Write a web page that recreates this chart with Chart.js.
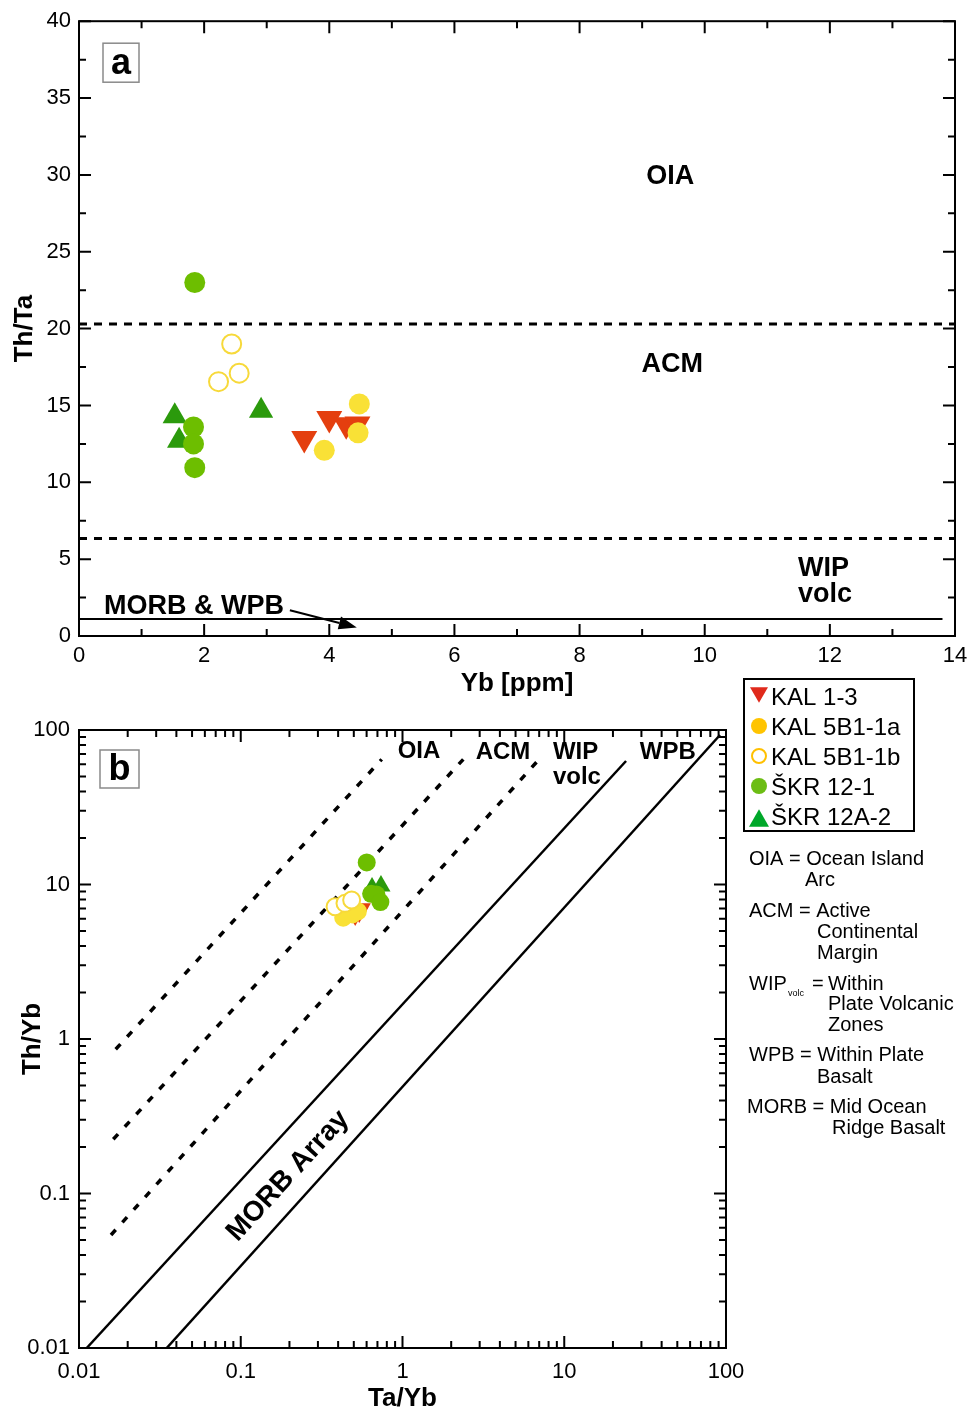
<!DOCTYPE html>
<html><head><meta charset="utf-8">
<script src="https://cdn.jsdelivr.net/npm/chart.js@4.4.1/dist/chart.umd.min.js"></script>
<style>
html,body{margin:0;padding:0;background:#fff;}
#wrap{position:relative;width:979px;height:1414px;overflow:hidden;}
canvas{position:absolute;left:0;}
#ca{top:0;width:979px;height:700px;}
#cb{top:670px;width:979px;height:744px;}
</style></head><body>
<div id="wrap"><canvas id="ca" width="979" height="700"></canvas><canvas id="cb" width="979" height="744"></canvas></div>
<script>
// ---------------- DATA ----------------
const seriesNames = ['KAL 1-3', 'KAL 5B1-1a', 'KAL 5B1-1b', 'ŠKR 12-1', 'ŠKR 12A-2'];

// Panel a: Yb [ppm] vs Th/Ta
const kal13_Yb   = [3.60, 4.00, 4.27, 4.45];
const kal13_ThTa = [12.85, 14.15, 13.75, 13.8];
const kal5a_Yb   = [4.48, 4.46, 3.92];
const kal5a_ThTa = [15.1, 13.22, 12.08];
const kal5b_Yb   = [2.44, 2.23, 2.56];
const kal5b_ThTa = [19.0, 16.55, 17.1];
const skr121_Yb   = [1.85, 1.83, 1.83, 1.85];
const skr121_ThTa = [23.0, 13.6, 12.5, 10.95];
const skr12a_Yb   = [1.53, 1.60, 2.91];
const skr12a_ThTa = [14.3, 12.7, 14.65];

// Panel a field boundaries
const aDashX   = [0, 14];
const aOiaAcmY = [20.3, 20.3];
const aAcmWipY = [6.35, 6.35];
const aMorbX   = [0, 13.8];
const aMorbY   = [1.1, 1.1];

// Panel b: Ta/Yb vs Th/Yb
const kal13_TaYb = [0.51, 0.52, 0.54, 0.56];
const kal13_ThYb = [6.3, 6.7, 6.6, 7.0];
const kal5a_TaYb = [0.43, 0.49, 0.53];
const kal5a_ThYb = [6.1, 6.4, 6.7];
const kal5b_TaYb = [0.383, 0.441, 0.485];
const kal5b_ThYb = [7.18, 7.55, 7.94];
const skr121_TaYb = [0.601, 0.64, 0.69, 0.73];
const skr121_ThYb = [13.9, 8.7, 8.6, 7.7];
const skr12a_TaYb = [0.648, 0.736, 0.66];
const skr12a_ThYb = [9.48, 9.77, 9.0];

// Panel b field boundaries
const bOiaAcmX = [0.01686, 0.744];  const bOiaAcmY = [0.858, 64.6];
const bAcmWipX = [0.01629, 2.376];  const bAcmWipY = [0.2243, 64.6];
const bWipWpbX = [0.01577, 7.08];   const bWipWpbY = [0.0539, 65.6];
const bMorbUpX = [0.01116, 24.1];   const bMorbUpY = [0.01, 63.0];
const bMorbLoX = [0.03485, 91.8];   const bMorbLoY = [0.01, 92.8];

// Ticks
const aXTicks = [0, 2, 4, 6, 8, 10, 12, 14];
const aXMinor = [1, 3, 5, 7, 9, 11, 13];
const aYTicks = [0, 5, 10, 15, 20, 25, 30, 35, 40];
const aYMinor = [2.5, 7.5, 12.5, 17.5, 22.5, 27.5, 32.5, 37.5];
const bTicks = [0.01, 0.1, 1, 10, 100];
const bTickLabels = ['0.01', '0.1', '1', '10', '100'];
const bMinorMult = [2, 3, 4, 5, 6, 7, 8, 9];

// ---------------- STYLE ----------------
const FONT = '"Liberation Sans", Arial, Helvetica, sans-serif';
const STY = [
  {shape: 'triangle', rot: 180, fill: '#E43F0F', stroke: '#E43F0F', bw: 0},
  {shape: 'circle',   rot: 0,   fill: '#F9E136', stroke: '#F9E136', bw: 0},
  {shape: 'circle',   rot: 0,   fill: '#FFFFFF', stroke: '#F7D93A', bw: 2},
  {shape: 'circle',   rot: 0,   fill: '#6DBE00', stroke: '#6DBE00', bw: 0},
  {shape: 'triangle', rot: 0,   fill: '#2B9A0C', stroke: '#2B9A0C', bw: 0}
];
const LEG = [
  {shape: 'down',   fill: '#E02A1C', stroke: null},
  {shape: 'circle', fill: '#FFC400', stroke: null},
  {shape: 'circle', fill: '#FFFFFF', stroke: '#FFC000'},
  {shape: 'circle', fill: '#6CBD14', stroke: null},
  {shape: 'up',     fill: '#00A82A', stroke: null}
];
const drawOrder = [3, 2, 1, 4, 5];

const zip = (xs, ys) => xs.map((x, i) => ({x: x, y: ys[i]}));

function ptsDS(i, xs, ys, r) {
  const s = STY[i];
  const rr = s.shape === 'triangle' ? r.tri : r.circ;
  return {
    label: seriesNames[i], data: zip(xs, ys), showLine: false,
    pointStyle: s.shape, pointRotation: s.rot, pointRadius: rr, pointHoverRadius: rr,
    pointBackgroundColor: s.fill, pointBorderColor: s.stroke, pointBorderWidth: s.bw,
    backgroundColor: s.fill, borderColor: s.stroke, borderWidth: s.bw,
    order: drawOrder[i]
  };
}
function lineDS(xs, ys, w, dash) {
  return {data: zip(xs, ys), showLine: true, borderColor: '#000', borderWidth: w,
    borderDash: dash, borderCapStyle: 'butt', pointRadius: 0, pointHoverRadius: 0,
    fill: false, tension: 0, order: 20};
}

function frameAndTicks(chart, xMaj, xMin, yMaj, yMin) {
  const {ctx, chartArea: a, scales: {x, y}} = chart;
  ctx.save();
  ctx.strokeStyle = '#000'; ctx.lineWidth = 2; ctx.lineCap = 'butt';
  ctx.beginPath();
  const seg = (x1, y1, x2, y2) => { ctx.moveTo(x1, y1); ctx.lineTo(x2, y2); };
  const xt = (v, L) => { const p = x.getPixelForValue(v); seg(p, a.bottom, p, a.bottom - L); seg(p, a.top, p, a.top + L); };
  const yt = (v, L) => { const p = y.getPixelForValue(v); seg(a.left, p, a.left + L, p); seg(a.right, p, a.right - L, p); };
  xMaj.forEach(v => xt(v, 12)); xMin.forEach(v => xt(v, 7));
  yMaj.forEach(v => yt(v, 12)); yMin.forEach(v => yt(v, 7));
  ctx.stroke();
  ctx.strokeRect(a.left, a.top, a.right - a.left, a.bottom - a.top);
  ctx.restore();
}
function txt(ctx, s, x, y, font, align, base) {
  ctx.save(); ctx.fillStyle = '#000'; ctx.font = font;
  ctx.textAlign = align || 'center'; ctx.textBaseline = base || 'middle';
  ctx.fillText(s, x, y); ctx.restore();
}
function letterBox(ctx, s, x, y, w, h) {
  ctx.save(); ctx.fillStyle = '#fff'; ctx.fillRect(x, y, w, h);
  ctx.strokeStyle = '#8a8a8a'; ctx.lineWidth = 1.5; ctx.strokeRect(x, y, w, h);
  ctx.restore();
  txt(ctx, s, x + w / 2, y + h / 2 + 1, 'bold 36px ' + FONT);
}
function arrow(ctx, x1, y1, x2, y2, hl, hw) {
  const ang = Math.atan2(y2 - y1, x2 - x1);
  const bx = x2 - hl * Math.cos(ang), by = y2 - hl * Math.sin(ang);
  ctx.save(); ctx.strokeStyle = '#000'; ctx.fillStyle = '#000'; ctx.lineWidth = 2;
  ctx.beginPath(); ctx.moveTo(x1, y1); ctx.lineTo(bx, by); ctx.stroke();
  ctx.beginPath(); ctx.moveTo(x2, y2);
  ctx.lineTo(bx + hw / 2 * Math.sin(ang), by - hw / 2 * Math.cos(ang));
  ctx.lineTo(bx - hw / 2 * Math.sin(ang), by + hw / 2 * Math.cos(ang));
  ctx.closePath(); ctx.fill(); ctx.restore();
}
function tri(ctx, cx, cy, side, down, fill) {
  const h = side * Math.sqrt(3) / 2;
  ctx.beginPath();
  if (down) { ctx.moveTo(cx - side / 2, cy - h / 2); ctx.lineTo(cx + side / 2, cy - h / 2); ctx.lineTo(cx, cy + h / 2); }
  else { ctx.moveTo(cx - side / 2, cy + h / 2); ctx.lineTo(cx + side / 2, cy + h / 2); ctx.lineTo(cx, cy - h / 2); }
  ctx.closePath(); ctx.fillStyle = fill; ctx.fill();
}

const tickFont = {family: FONT, size: 22};
const titleFont = {family: FONT, size: 26, weight: 'bold'};

// ---------------- PANEL A ----------------
const plugA = {
  id: 'plugA',
  afterDraw(chart) {
    const {ctx, chartArea: a, scales: {x, y}} = chart;
    frameAndTicks(chart, aXTicks, aXMinor, aYTicks, aYMinor);
    const F = 'bold 27px ' + FONT;
    txt(ctx, 'OIA', x.getPixelForValue(9.45), y.getPixelForValue(29.9), F);
    txt(ctx, 'ACM', x.getPixelForValue(9.48), y.getPixelForValue(17.67), F);
    txt(ctx, 'WIP', x.getPixelForValue(11.49), y.getPixelForValue(4.40), F, 'left');
    txt(ctx, 'volc', x.getPixelForValue(11.49), y.getPixelForValue(2.72), F, 'left');
    txt(ctx, 'MORB & WPB', x.getPixelForValue(0.40), y.getPixelForValue(1.94), F, 'left');
    arrow(ctx, x.getPixelForValue(3.37), y.getPixelForValue(1.68), x.getPixelForValue(4.44), y.getPixelForValue(0.56), 18, 13);
    letterBox(ctx, 'a', a.left + 24, a.top + 22, 36, 39);
  }
};

new Chart(document.getElementById('ca'), {
  type: 'scatter',
  data: {datasets: [
    lineDS(aDashX, aOiaAcmY, 3, [8, 7]),
    lineDS(aDashX, aAcmWipY, 3, [8, 7]),
    lineDS(aMorbX, aMorbY, 2, []),
    ptsDS(0, kal13_Yb, kal13_ThTa, {tri: 15, circ: 10}),
    ptsDS(1, kal5a_Yb, kal5a_ThTa, {tri: 13, circ: 10.5}),
    ptsDS(2, kal5b_Yb, kal5b_ThTa, {tri: 13, circ: 9.5}),
    ptsDS(3, skr121_Yb, skr121_ThTa, {tri: 13, circ: 10.5}),
    ptsDS(4, skr12a_Yb, skr12a_ThTa, {tri: 14, circ: 10})
  ]},
  options: {
    responsive: false, animation: false, devicePixelRatio: 1,
    layout: {padding: {left: 0, right: 24, top: 18, bottom: 0}},
    plugins: {legend: {display: false}, tooltip: {enabled: false}},
    scales: {
      x: {
        type: 'linear', min: 0, max: 14,
        grid: {display: false, drawTicks: false}, border: {display: false},
        afterBuildTicks: s => { s.ticks = aXTicks.map(v => ({value: v})); },
        afterFit: s => { s.height = 64; },
        ticks: {font: tickFont, color: '#000', padding: 7, maxRotation: 0, autoSkip: false},
        title: {display: true, text: 'Yb [ppm]', font: titleFont, color: '#000', padding: {top: 0, bottom: 1}}
      },
      y: {
        type: 'linear', min: 0, max: 40,
        grid: {display: false, drawTicks: false}, border: {display: false},
        afterBuildTicks: s => { s.ticks = aYTicks.map(v => ({value: v})); },
        afterFit: s => { s.width = 79; },
        ticks: {font: tickFont, color: '#000', padding: 8, autoSkip: false},
        title: {display: true, text: 'Th/Ta', font: titleFont, color: '#000', padding: {top: 9, bottom: 0}}
      }
    }
  },
  plugins: [plugA]
});

// ---------------- PANEL B ----------------
const bMinor = [];
[0.01, 0.1, 1, 10].forEach(d => bMinorMult.forEach(m => bMinor.push(d * m)));

const defLines = [
  ['OIA = Ocean Island', 0, 0], ['Arc', 56, 21],
  ['ACM = Active', 0, 52], ['Continental', 68, 73], ['Margin', 68, 94],
  ['WIP', 0, 125], ['=', 63, 125], ['Within', 79, 125],
  ['Plate Volcanic', 79, 145], ['Zones', 79, 166],
  ['WPB = Within Plate', 0, 196], ['Basalt', 68, 218],
  ['MORB = Mid Ocean', -2, 248], ['Ridge Basalt', 83, 269]
];

const plugB = {
  id: 'plugB',
  afterDraw(chart) {
    const {ctx, chartArea: a, scales: {x, y}} = chart;
    frameAndTicks(chart, bTicks, bMinor, bTicks, bMinor);
    const F = 'bold 24px ' + FONT;
    txt(ctx, 'OIA', x.getPixelForValue(1.265), y.getPixelForValue(73), F);
    txt(ctx, 'ACM', x.getPixelForValue(4.18), y.getPixelForValue(72), F);
    txt(ctx, 'WIP', x.getPixelForValue(8.51), y.getPixelForValue(72), F, 'left');
    txt(ctx, 'volc', x.getPixelForValue(8.51), y.getPixelForValue(49.3), F, 'left');
    txt(ctx, 'WPB', x.getPixelForValue(43.7), y.getPixelForValue(72), F);
    // MORB Array label along the array
    const ang = Math.atan2(y.getPixelForValue(bMorbUpY[1]) - y.getPixelForValue(bMorbUpY[0]),
                           x.getPixelForValue(bMorbUpX[1]) - x.getPixelForValue(bMorbUpX[0]));
    ctx.save();
    ctx.translate(x.getPixelForValue(0.196), y.getPixelForValue(0.130));
    ctx.rotate(ang);
    txt(ctx, 'MORB Array', 0, 0, 'bold 28px ' + FONT);
    ctx.restore();
    letterBox(ctx, 'b', a.left + 21, a.top + 20, 39, 38);

    // Legend box
    const lx = a.right + 18, ly = a.top - 51;
    ctx.save();
    ctx.strokeStyle = '#000'; ctx.lineWidth = 2;
    ctx.strokeRect(lx, ly, 170, 152);
    for (let i = 0; i < seriesNames.length; i++) {
      const cy = ly + 18 + i * 30;
      const mx = lx + 15;
      const L = LEG[i];
      if (L.shape === 'down') tri(ctx, mx, cy - 2, 18, true, L.fill);
      else if (L.shape === 'up') tri(ctx, mx, cy + 1, 20, false, L.fill);
      else {
        ctx.beginPath(); ctx.arc(mx, cy - 1, L.stroke ? 7 : 8, 0, Math.PI * 2);
        ctx.fillStyle = L.fill; ctx.fill();
        if (L.stroke) { ctx.lineWidth = 2; ctx.strokeStyle = L.stroke; ctx.stroke(); }
      }
      txt(ctx, seriesNames[i], lx + 27, cy + 1, '24px ' + FONT, 'left');
    }
    ctx.restore();

    // Definitions
    const dx = a.right + 23, dy = a.top + 129;
    defLines.forEach(d => txt(ctx, d[0], dx + d[1], dy + d[2], '20px ' + FONT, 'left'));
    txt(ctx, 'volc', dx + 39, dy + 135, '9px ' + FONT, 'left');
  }
};

const logTickCb = v => {
  const i = bTicks.findIndex(t => Math.abs(Math.log10(t) - Math.log10(v)) < 1e-6);
  return i >= 0 ? bTickLabels[i] : '';
};

new Chart(document.getElementById('cb'), {
  type: 'scatter',
  data: {datasets: [
    lineDS(bOiaAcmX, bOiaAcmY, 3.5, [7, 10]),
    lineDS(bAcmWipX, bAcmWipY, 3.5, [7, 10]),
    lineDS(bWipWpbX, bWipWpbY, 3.5, [7, 10]),
    lineDS(bMorbUpX, bMorbUpY, 2.5, []),
    lineDS(bMorbLoX, bMorbLoY, 2.5, []),
    ptsDS(0, kal13_TaYb, kal13_ThYb, {tri: 10.5, circ: 9}),
    ptsDS(1, kal5a_TaYb, kal5a_ThYb, {tri: 10.5, circ: 9}),
    ptsDS(2, kal5b_TaYb, kal5b_ThYb, {tri: 10.5, circ: 8.5}),
    ptsDS(3, skr121_TaYb, skr121_ThYb, {tri: 10.5, circ: 9}),
    ptsDS(4, skr12a_TaYb, skr12a_ThYb, {tri: 11, circ: 9})
  ]},
  options: {
    responsive: false, animation: false, devicePixelRatio: 1,
    layout: {padding: {left: 0, right: 253, top: 60, bottom: 0}},
    plugins: {legend: {display: false}, tooltip: {enabled: false}},
    scales: {
      x: {
        type: 'logarithmic', min: 0.01, max: 100,
        grid: {display: false, drawTicks: false}, border: {display: false},
        afterBuildTicks: s => { s.ticks = bTicks.map(v => ({value: v})); },
        afterFit: s => { s.height = 66; },
        ticks: {font: tickFont, color: '#000', padding: 11, maxRotation: 0, autoSkip: false, callback: logTickCb},
        title: {display: true, text: 'Ta/Yb', font: titleFont, color: '#000', padding: {top: 0, bottom: 0}}
      },
      y: {
        type: 'logarithmic', min: 0.01, max: 100,
        grid: {display: false, drawTicks: false}, border: {display: false},
        afterBuildTicks: s => { s.ticks = bTicks.map(v => ({value: v})); },
        afterFit: s => { s.width = 79; },
        ticks: {font: tickFont, color: '#000', padding: 9, autoSkip: false, callback: logTickCb},
        title: {display: true, text: 'Th/Yb', font: titleFont, color: '#000', padding: {top: 17, bottom: 0}}
      }
    }
  },
  plugins: [plugB]
});
</script>
</body></html>
